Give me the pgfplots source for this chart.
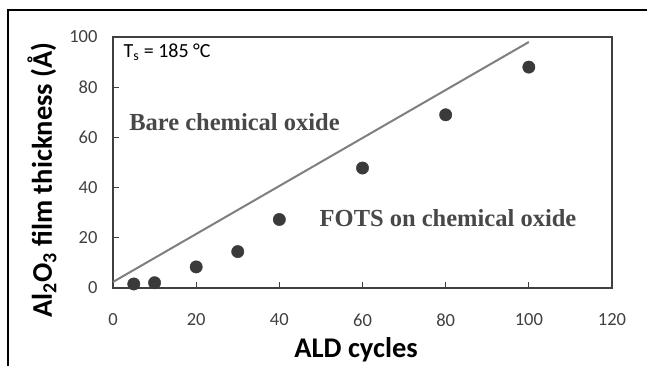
\documentclass[border=0pt]{standalone}
\usepackage{pgfplots}
\pgfplotsset{compat=1.18}
\usepackage{fontspec}
\setmainfont{Carlito}
\newfontfamily\serifb{Liberation Serif}
\definecolor{axgray}{HTML}{404040}
\definecolor{linegray}{HTML}{7F7F7F}
\definecolor{markgray}{HTML}{3A3A3A}
\definecolor{txtgray}{HTML}{484848}
\begin{document}
\begin{tikzpicture}[x=1pt,y=1pt]
\useasboundingbox (0,0) rectangle (647,366);
\draw[black,line width=2pt] (8,0) -- (8,356) -- (647,356);
\begin{axis}[
  at={(113pt,78pt)}, anchor=south west,
  scale only axis, width=499pt, height=251pt,
  xmin=0, xmax=120, ymin=0, ymax=100,
  xtick={0,20,...,120}, ytick={0,20,...,100},
  axis line style={axgray,line width=1.6pt},
  tick style={axgray,line width=1.2pt},
  major tick length=6pt,
  tick align=inside,
  xtick pos=bottom, ytick pos=left,
  ticklabel style={font=\fontsize{18.5}{22}\selectfont, text=axgray},
  /pgf/number format/assume math mode=true,
  xticklabel style={yshift=-22pt},
  yticklabel style={xshift=-12pt},
  clip=false,
]
\addplot[linegray, line width=2pt] coordinates {(0,2.4) (100,98)};
\addplot[only marks, mark=*, mark size=6.2pt, mark options={fill=markgray, draw=markgray}] coordinates {
(5,1.6) (10,2.1) (20,8.4) (30,14.5) (40,27.3) (60,47.8) (80,69) (100,88)};
\end{axis}
\node[font=\fontsize{20}{24}\selectfont, anchor=west, text=black] at (120,314) {T\textsubscript{s} = 185 °C};
\node[font=\serifb\bfseries\fontsize{24.5}{28}\selectfont, text=txtgray] at (234.5,244) {Bare chemical oxide};
\node[font=\serifb\bfseries\fontsize{24.5}{28}\selectfont, text=txtgray] at (448,148) {FOTS on chemical oxide};
\node[font=\bfseries\fontsize{28.5}{32}\selectfont, text=black] at (356,16) {ALD cycles};
\node[font=\bfseries\fontsize{28.5}{32}\selectfont, text=black, rotate=90] at (42,186) {Al\textsubscript{2}O\textsubscript{3} film thickness (Å)};
\end{tikzpicture}
\end{document}
